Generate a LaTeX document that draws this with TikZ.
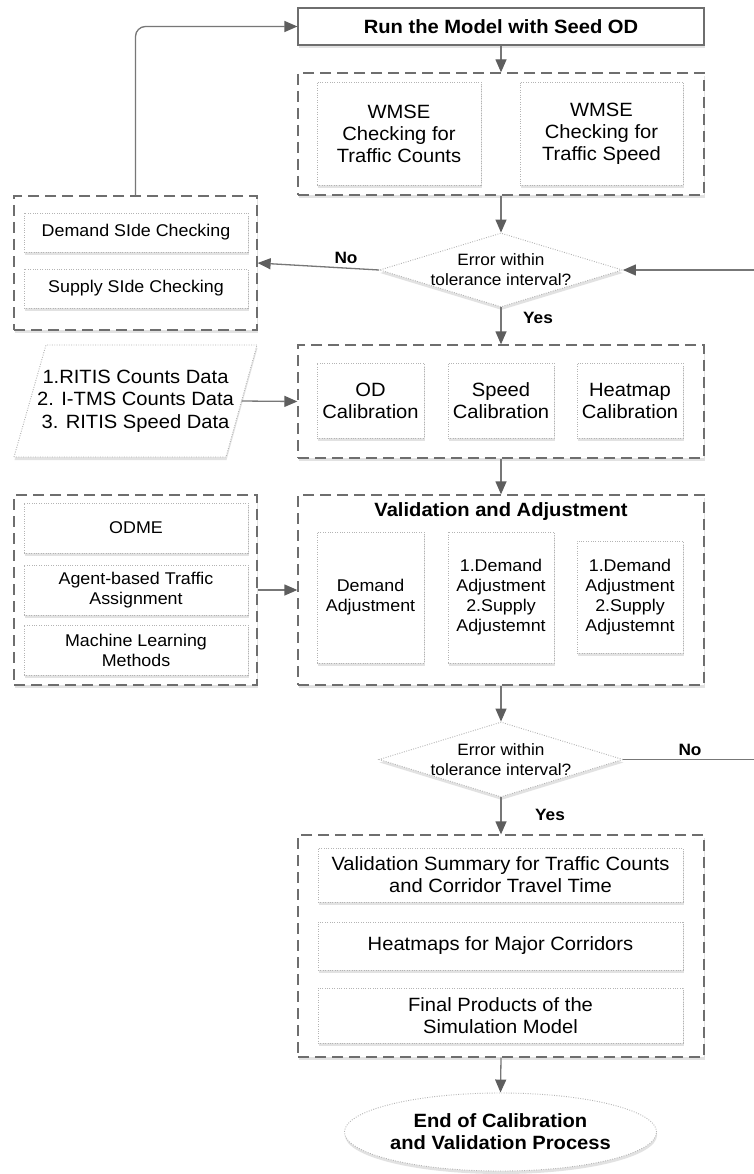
\documentclass[tikz,border=0pt]{standalone}
\usepackage{fontspec}
\setmainfont{Liberation Sans}[FakeStretch=1.05]
\usetikzlibrary{arrows.meta,shapes.geometric,shadows}
\definecolor{linegray}{HTML}{777777}
\definecolor{tipgray}{HTML}{5E5E5E}
\definecolor{dashgray}{HTML}{6E6E6E}
\definecolor{dotgray}{HTML}{B4B4B4}
\newcommand\fsz[2]{\fontsize{#1}{#2}\selectfont}
\tikzset{
  shadowed/.style={drop shadow={shadow xshift=0.5pt, shadow yshift=-3pt, opacity=0.16, fill=black!70}},
  conn/.style={draw=linegray, line width=1.3pt, -{Triangle[length=13pt,width=11pt,color=tipgray]}},
  dbox/.style={draw=dashgray, line width=1.3pt, dash pattern=on 11pt off 6pt, fill=white, shadowed},
  ibox/.style={draw=dotgray, line width=0.9pt, dash pattern=on 0.9pt off 1.5pt, fill=white, shadowed, align=center, inner sep=2pt},
  sbox/.style={draw=dashgray, line width=1.2pt, fill=white, shadowed},
  decision/.style={diamond, aspect=3.28, draw=dotgray, line width=0.9pt, dash pattern=on 0.9pt off 1.5pt, fill=white, shadowed, minimum width=243pt, minimum height=74pt, inner sep=0pt},
  dtxt/.style={align=center, font=\fsz{16.4}{20}},
  lbl/.style={font=\fsz{16.4}{18}\bfseries},
  txt/.style={font=\fsz{19.2}{22}, align=center},
  stxt/.style={font=\fsz{17}{20}, align=center},
}
\begin{document}
\begin{tikzpicture}[x=1pt,y=-1pt]
\useasboundingbox[fill=white] (0,0) rectangle (754,1174);

% top box
\node[sbox, minimum width=406pt, minimum height=37pt, font=\fsz{19.2}{22}\bfseries] (run) at (501,26.5) {Run the Model with Seed OD};

% WMSE group
\node[dbox, minimum width=406pt, minimum height=122pt] (box1) at (501,134) {};
\node[ibox, txt, minimum width=164pt, minimum height=103pt] (wmse1) at (399,133.5) {WMSE\\Checking for\\Traffic Counts};
\node[ibox, txt, minimum width=163pt, minimum height=103pt] (wmse2) at (601.5,133.5) {WMSE\\Checking for\\Traffic Speed};

% decision 1
\node[decision] (dia1) at (501,270) {};
\node[dtxt] (dia1t) at (dia1.center) {Error within\\tolerance interval?};

% left checking group
\node[dbox, minimum width=243pt, minimum height=134pt] (left1) at (135.5,263) {};
\node[ibox, stxt, minimum width=224pt, minimum height=39pt] (demand) at (136,232.5) {Demand SIde Checking};
\node[ibox, stxt, minimum width=224pt, minimum height=39pt] (supply) at (136,288.5) {Supply SIde Checking};

% calibration group
\node[dbox, minimum width=406pt, minimum height=113pt] (box2) at (501,401.5) {};
\node[ibox, txt, minimum width=107pt, minimum height=75pt] (odcal) at (370.5,400.5) {OD\\Calibration};
\node[ibox, txt, minimum width=106pt, minimum height=75pt] (spcal) at (501,400.5) {Speed\\Calibration};
\node[ibox, txt, minimum width=106pt, minimum height=75pt] (hmcal) at (630,400.5) {Heatmap\\Calibration};

% data parallelogram
\fill[black!70, opacity=0.16] (14.5,460) -- (46.5,348) -- (257.5,348) -- (226.5,460) -- cycle;
\draw[draw=dotgray, line width=0.9pt, dash pattern=on 0.9pt off 1.5pt, fill=white] (14,457) -- (46,345) -- (257,345) -- (226,457) -- cycle;
\node[font=\fsz{19.2}{22.5}, align=center] (data) at (135.5,401) {1.RITIS Counts Data\\2. I-TMS Counts Data\\3. RITIS Speed Data};
\coordinate (dataE) at (241.5,401);

% validation group
\node[dbox, minimum width=406pt, minimum height=190pt] (box3) at (501,590) {};
\node[font=\fsz{19.2}{22}\bfseries] (vtitle) at (501,512) {Validation and Adjustment};
\node[ibox, stxt, minimum width=107pt, minimum height=131pt] (dadj) at (370.5,597.5) {Demand\\Adjustment};
\node[ibox, stxt, minimum width=106pt, minimum height=131pt] (dsadj1) at (501,597.5) {1.Demand\\Adjustment\\2.Supply\\Adjustemnt};
\node[ibox, stxt, minimum width=106pt, minimum height=112pt] (dsadj2) at (630,597) {1.Demand\\Adjustment\\2.Supply\\Adjustemnt};

% methods group
\node[dbox, minimum width=243pt, minimum height=190pt] (left2) at (135.5,590) {};
\node[ibox, stxt, minimum width=224pt, minimum height=50pt] (odme) at (136,528) {ODME};
\node[ibox, stxt, minimum width=224pt, minimum height=50pt] (agent) at (136,590) {Agent-based Traffic\\Assignment};
\node[ibox, stxt, minimum width=224pt, minimum height=50pt] (ml) at (136,650) {Machine Learning\\Methods};

% decision 2
\node[decision, minimum width=244pt, minimum height=75pt] (dia2) at (501,759.5) {};
\node[dtxt] (dia2t) at (dia2.center) {Error within\\tolerance interval?};

% products group
\node[dbox, minimum width=406pt, minimum height=222pt] (box4) at (501,946) {};
\node[ibox, txt, minimum width=365pt, minimum height=54pt] (vsum) at (500.5,875) {Validation Summary for Traffic Counts\\and Corridor Travel Time};
\node[ibox, txt, minimum width=365pt, minimum height=48pt] (heat) at (500.5,946) {Heatmaps for Major Corridors};
\node[ibox, txt, minimum width=365pt, minimum height=55pt] (final) at (500.5,1015.5) {Final Products of the\\Simulation Model};

% end
\node[ellipse, draw=dotgray, line width=0.9pt, dash pattern=on 0.9pt off 1.5pt, fill=white, shadowed, minimum width=285pt, minimum height=78pt, inner sep=0pt, align=center, font=\fsz{19.2}{22}\bfseries] (endn) at (500.5,1132) {End of Calibration\\and Validation Process};

% connectors
\draw[conn, rounded corners=10pt] (left1.north) |- (run.west);
\draw[conn] (run.south) -- (box1.north);
\draw[conn] (box1.south) -- (dia1.north);
\draw[conn] (dia1.west) -- (left1.east);
\node[lbl] (no1) at (346,258) {No};
\draw[conn] (dia1.south) -- (box2.north);
\node[lbl] (yes1) at (538,318) {Yes};
\draw[conn] (dataE) -- (box2.west);
\draw[conn] (box2.south) -- (box3.north);
\draw[conn] (left2.east) -- (box3.west);
\draw[conn] (box3.south) -- (dia2.north);
\draw[conn] (dia2.east) -- (772,759.5) |- (dia1.east);
\node[lbl] (no2) at (690,750) {No};
\draw[conn] (dia2.south) -- (box4.north);
\node[lbl] (yes2) at (550,815) {Yes};
\draw[conn] (box4.south) -- (endn.north);
\end{tikzpicture}
\end{document}
